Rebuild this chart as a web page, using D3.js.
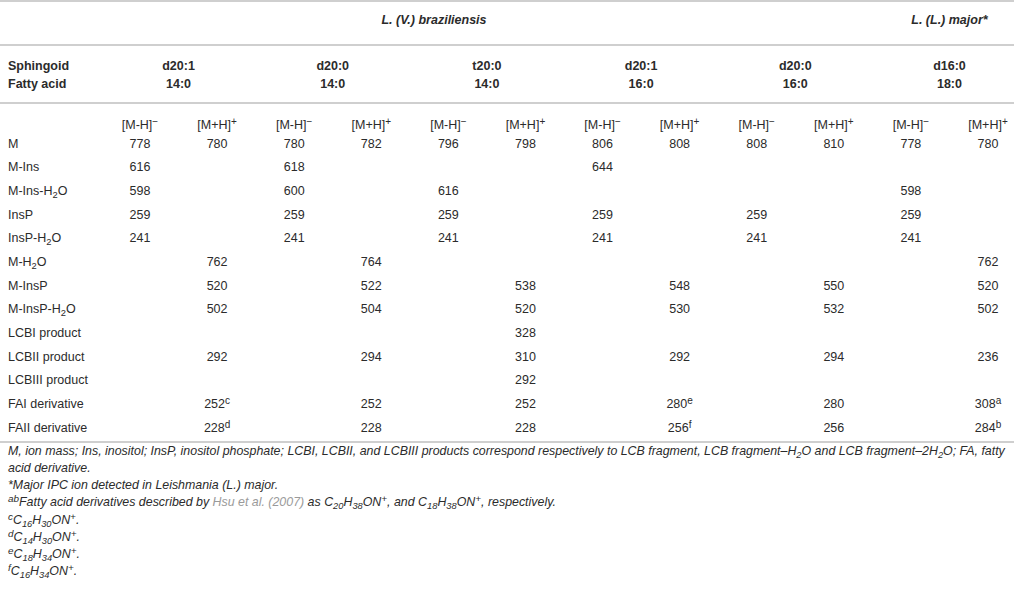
<!DOCTYPE html>
<html lang="en">
<head>
  <title>IPC fragment ions</title>
  <meta charset="utf-8">
  <script src="https://d3js.org/d3.v7.min.js" charset="utf-8"></script>
  <style>
    body { margin: 0; background: #fff; }
    svg text { font-family: "Liberation Sans", Arial, sans-serif; fill: #2b2b2b; }
  </style>
</head>
<body>
  <script>
    // row labels, _{} = subscript, ^{} = superscript, ~{} = link
    var rowLabels = ["M", "M-Ins", "M-Ins-H_{2}O", "InsP", "InsP-H_{2}O", "M-H_{2}O", "M-InsP",
      "M-InsP-H_{2}O", "LCBI product", "LCBII product", "LCBIII product", "FAI derivative", "FAII derivative"];

    var species = ["L. (V.) braziliensis", "L. (L.) major*"];
    var sphingoids = ["d20:1", "d20:0", "t20:0", "d20:1", "d20:0", "d16:0"];
    var fattyAcids = ["14:0", "14:0", "14:0", "16:0", "16:0", "18:0"];
    var ionModes = ["[M-H]^{−}", "[M+H]^{+}"];

    // one array per column, same order as rowLabels (null = empty cell)
    var d201_140_neg = ["778", "616", "598", "259", "241", null, null, null, null, null, null, null, null];
    var d201_140_pos = ["780", null, null, null, null, "762", "520", "502", null, "292", null, "252^{c}", "228^{d}"];
    var d200_140_neg = ["780", "618", "600", "259", "241", null, null, null, null, null, null, null, null];
    var d200_140_pos = ["782", null, null, null, null, "764", "522", "504", null, "294", null, "252", "228"];
    var t200_140_neg = ["796", null, "616", "259", "241", null, null, null, null, null, null, null, null];
    var t200_140_pos = ["798", null, null, null, null, null, "538", "520", "328", "310", "292", "252", "228"];
    var d201_160_neg = ["806", "644", null, "259", "241", null, null, null, null, null, null, null, null];
    var d201_160_pos = ["808", null, null, null, null, null, "548", "530", null, "292", null, "280^{e}", "256^{f}"];
    var d200_160_neg = ["808", null, null, "259", "241", null, null, null, null, null, null, null, null];
    var d200_160_pos = ["810", null, null, null, null, null, "550", "532", null, "294", null, "280", "256"];
    var d160_180_neg = ["778", null, "598", "259", "241", null, null, null, null, null, null, null, null];
    var d160_180_pos = ["780", null, null, null, null, "762", "520", "502", null, "236", null, "308^{a}", "284^{b}"];

    var columns = [d201_140_neg, d201_140_pos, d200_140_neg, d200_140_pos, t200_140_neg, t200_140_pos,
      d201_160_neg, d201_160_pos, d200_160_neg, d200_160_pos, d160_180_neg, d160_180_pos];

    var footnotes = [
      "M, ion mass; Ins, inositol; InsP, inositol phosphate; LCBI, LCBII, and LCBIII products correspond respectively to LCB fragment, LCB fragment–H_{2}O and LCB fragment–2H_{2}O; FA, fatty",
      "acid derivative.",
      "*Major IPC ion detected in Leishmania (L.) major.",
      "^{ab}Fatty acid derivatives described by ~{Hsu et al. (2007)} as C_{20}H_{38}ON^{+}, and C_{18}H_{38}ON^{+}, respectively.",
      "^{c}C_{16}H_{30}ON^{+}.",
      "^{d}C_{14}H_{30}ON^{+}.",
      "^{e}C_{18}H_{34}ON^{+}.",
      "^{f}C_{16}H_{34}ON^{+}."
    ];

    var w = 1014, h = 593;
    var ruleColor = "#cfcfcf";
    var fs = "12.5px";

    var svg = d3.select("body").append("svg")
      .attr("width", w)
      .attr("height", h);

    // scales
    var x = d3.scalePoint()
      .domain(d3.range(columns.length))
      .range([140, 988]);
    var y = d3.scalePoint()
      .domain(d3.range(rowLabels.length))
      .range([143, 427]);
    var yNote = d3.scalePoint()
      .domain(d3.range(footnotes.length))
      .range([451, 571]);

    // writes marked-up text into a text element as tspans
    function rich(sel, str) {
      var parts = str.split(/([_^~]\{[^}]*\})/);
      parts.forEach(function(p) {
        if (!p) return;
        var body = p.slice(2, -1);
        if (p[1] == "{" && p[0] == "_") {
          sel.append("tspan").text(body)
            .attr("baseline-shift", "-3").attr("font-size", "0.75em");
        } else if (p[1] == "{" && p[0] == "^") {
          sel.append("tspan").text(body)
            .attr("baseline-shift", "4").attr("font-size", "0.8em");
        } else if (p[1] == "{" && p[0] == "~") {
          sel.append("tspan").text(body).style("fill", "#9a9a9a");
        } else {
          sel.append("tspan").text(p);
        }
      });
    }

    function rule(yy) {
      svg.append("line")
        .attr("x1", 0).attr("x2", w)
        .attr("y1", yy).attr("y2", yy)
        .attr("stroke", ruleColor)
        .attr("stroke-width", 2);
    }

    rule(1);
    rule(45);
    rule(103);
    rule(442);

    // species row
    svg.append("text")
      .attr("x", 434).attr("y", 24)
      .attr("text-anchor", "middle")
      .attr("font-size", fs)
      .attr("font-weight", "bold")
      .attr("font-style", "italic")
      .text(species[0]);
    svg.append("text")
      .attr("x", (x(10) + x(11)) / 2).attr("y", 24)
      .attr("text-anchor", "middle")
      .attr("font-size", fs)
      .attr("font-weight", "bold")
      .attr("font-style", "italic")
      .text(species[1]);

    // sphingoid / fatty acid rows
    svg.append("text").attr("x", 8).attr("y", 70)
      .attr("font-size", fs).attr("font-weight", "bold").text("Sphingoid");
    svg.append("text").attr("x", 8).attr("y", 88)
      .attr("font-size", fs).attr("font-weight", "bold").text("Fatty acid");

    svg.selectAll(".sph")
      .data(sphingoids)
      .enter()
      .append("text")
      .attr("class", "sph")
      .attr("x", function(d, i) { return (x(2 * i) + x(2 * i + 1)) / 2; })
      .attr("y", 70)
      .attr("text-anchor", "middle")
      .attr("font-size", fs)
      .attr("font-weight", "bold")
      .text(function(d) { return d; });

    svg.selectAll(".fa")
      .data(fattyAcids)
      .enter()
      .append("text")
      .attr("class", "fa")
      .attr("x", function(d, i) { return (x(2 * i) + x(2 * i + 1)) / 2; })
      .attr("y", 88)
      .attr("text-anchor", "middle")
      .attr("font-size", fs)
      .attr("font-weight", "bold")
      .text(function(d) { return d; });

    // ion mode header
    svg.selectAll(".ion")
      .data(columns)
      .enter()
      .append("text")
      .attr("class", "ion")
      .attr("x", function(d, i) { return x(i); })
      .attr("y", 129)
      .attr("text-anchor", "middle")
      .attr("font-size", fs)
      .each(function(d, i) { rich(d3.select(this), ionModes[i % 2]); });

    // row labels
    svg.selectAll(".lab")
      .data(rowLabels)
      .enter()
      .append("text")
      .attr("class", "lab")
      .attr("x", 8)
      .attr("y", function(d, i) { return y(i) + 4.5; })
      .attr("font-size", fs)
      .each(function(d) { rich(d3.select(this), d); });

    // cells
    columns.forEach(function(col, ci) {
      svg.selectAll(".c" + ci)
        .data(col.map(function(v, ri) { return { v: v, r: ri }; }).filter(function(d) { return d.v; }))
        .enter()
        .append("text")
        .attr("class", "c" + ci)
        .attr("x", x(ci))
        .attr("y", function(d) { return y(d.r) + 4.5; })
        .attr("text-anchor", "middle")
        .attr("font-size", fs)
        .each(function(d) { rich(d3.select(this), d.v); });
    });

    // footnotes
    svg.selectAll(".note")
      .data(footnotes)
      .enter()
      .append("text")
      .attr("class", "note")
      .attr("x", 8)
      .attr("y", function(d, i) { return yNote(i) + 4; })
      .attr("font-size", "12.4px")
      .attr("font-style", "italic")
      .each(function(d) { rich(d3.select(this), d); });
  </script>
</body>
</html>
